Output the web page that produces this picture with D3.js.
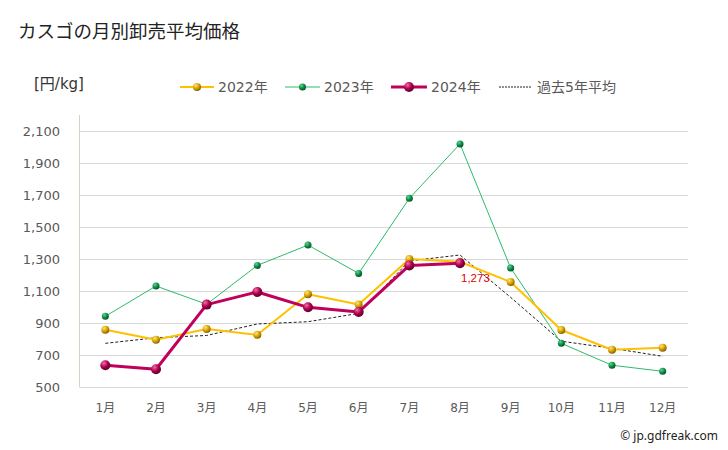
<!DOCTYPE html>
<html><head><meta charset="utf-8">
<script src="https://cdn.jsdelivr.net/npm/d3@7"></script>
<style>body{margin:0;background:#fff}svg{display:block}</style>
</head><body>
<svg id="c" width="728" height="450"></svg>
<script>
const months = ["1月","2月","3月","4月","5月","6月","7月","8月","9月","10月","11月","12月"];
const yTicks = [500,700,900,1100,1300,1500,1700,1900,2100];
const s2022 = [858,795,862,826,1080,1015,1300,1283,1156,856,733,746];
const s2023 = [942,1131,1017,1260,1387,1210,1679,2019,1244,773,636,598];
const s2024 = [636,611,1015,1094,998,969,1260,1273];
const avg5 = [773,808,822,894,908,960,1288,1325,1060,786,742,692];
const labelText = "1,273";

const svg = d3.select("#c");
const F = "'DejaVu Sans','Noto Sans CJK JP',sans-serif";
const L = 80, R = 688, T = 115, B = 387;
const x = d3.scaleBand().domain(months).range([L, R]);
const xc = m => x(m) + x.bandwidth()/2;
const y = d3.scaleLinear().domain([500, 2200]).range([B, B - 1700*0.16]);

const defs = svg.append("defs");
function grad(id, light, mid, dark){
  const g = defs.append("radialGradient").attr("id", id).attr("cx","35%").attr("cy","30%").attr("r","70%");
  g.append("stop").attr("offset","0%").attr("stop-color", light);
  g.append("stop").attr("offset","55%").attr("stop-color", mid);
  g.append("stop").attr("offset","100%").attr("stop-color", dark);
}
grad("gY","#ffe680","#d9a400","#8a6400");
grad("gG","#5fd890","#0f8f47","#05552a");
grad("gP","#f070a8","#b0004f","#5e0029");

svg.append("text").attr("x",18).attr("y",38).attr("font-family","'Noto Sans CJK JP',sans-serif")
  .attr("font-size",18.5).attr("fill","#222").text("カスゴの月別卸売平均価格");

// grid
svg.append("g").selectAll("line").data(yTicks).join("line")
  .attr("x1",L).attr("x2",R).attr("y1",d=>y(d)+0.5).attr("y2",d=>y(d)+0.5)
  .attr("stroke","#d9d9d9").attr("stroke-width",1);
svg.append("line").attr("x1",L-0.5).attr("x2",L-0.5).attr("y1",T).attr("y2",B+0.5)
  .attr("stroke","#d4d4c4").attr("stroke-width",1);

// y axis
const yAxis = d3.axisLeft(y).tickValues(yTicks).tickSize(0).tickPadding(0).tickFormat(d3.format(","));
const ya = svg.append("g").attr("transform",`translate(${L-20},0)`).call(yAxis);
ya.select(".domain").remove();
ya.selectAll("text").attr("font-family",F).attr("font-size",13).attr("fill","#595959").attr("dy","0.35em");

// x axis
const xAxis = d3.axisBottom(x).tickSize(0).tickPadding(0);
const xa = svg.append("g").attr("transform",`translate(0,${B+16})`).call(xAxis);
xa.select(".domain").remove();
xa.selectAll("text").attr("font-family",F).attr("font-size",12).attr("fill","#595959").attr("dy","0.71em");

svg.append("text").attr("x",34).attr("y",89).attr("font-family",F).attr("font-size",15).attr("fill","#333").text("[円/kg]");

const line = d3.line().x((d,i)=>xc(months[i])).y(d=>y(d));

// avg dashed
svg.append("path").datum(avg5).attr("d",line).attr("fill","none").attr("stroke","#222")
  .attr("stroke-width",1).attr("stroke-dasharray","3,2");

function series(data, color, w, r, g){
  svg.append("path").datum(data).attr("d",line).attr("fill","none").attr("stroke",color)
    .attr("stroke-width",w).attr("stroke-linejoin","round");
  svg.append("g").selectAll("circle").data(data).join("circle")
    .attr("cx",(d,i)=>xc(months[i])).attr("cy",d=>y(d)).attr("r",r).attr("fill",`url(#${g})`);
}
series(s2023,"#2dbb6a",1,3.5,"gG");
series(s2022,"#ffc000",2,4,"gY");
series(s2024,"#c0005a",3,5,"gP");

svg.append("text").attr("x",xc(months[7])+1).attr("y",y(1273)+19).attr("font-family","'Liberation Sans Narrow','Liberation Sans',sans-serif")
  .attr("font-size",11.5).attr("fill","#e00000").text(labelText);

// legend
const LY = 87;
const leg = [
  {t:"2022年", x1:180, x2:214, c:"#ffc000", w:2, r:4, g:"gY"},
  {t:"2023年", x1:285, x2:320, c:"#2dbb6a", w:1, r:3.5, g:"gG"},
  {t:"2024年", x1:391, x2:427, c:"#c0005a", w:3, r:5, g:"gP"},
];
leg.forEach(o=>{
  svg.append("line").attr("x1",o.x1).attr("x2",o.x2).attr("y1",LY).attr("y2",LY).attr("stroke",o.c).attr("stroke-width",o.w);
  svg.append("circle").attr("cx",(o.x1+o.x2)/2).attr("cy",LY).attr("r",o.r).attr("fill",`url(#${o.g})`);
  svg.append("text").attr("x",o.x2+4).attr("y",LY).attr("dy","0.35em").attr("font-family",F).attr("font-size",14).attr("fill","#595959").text(o.t);
});
svg.append("line").attr("x1",499).attr("x2",532).attr("y1",LY).attr("y2",LY).attr("stroke","#222").attr("stroke-width",1).attr("stroke-dasharray","2,1");
svg.append("text").attr("x",537).attr("y",LY).attr("dy","0.35em").attr("font-family",F).attr("font-size",14).attr("fill","#595959").text("過去5年平均");

svg.append("text").attr("x",718).attr("y",440).attr("text-anchor","end").attr("font-family","'Noto Sans',sans-serif")
  .attr("font-size",12).attr("fill","#222").text("© jp.gdfreak.com");
</script>
</body></html>
